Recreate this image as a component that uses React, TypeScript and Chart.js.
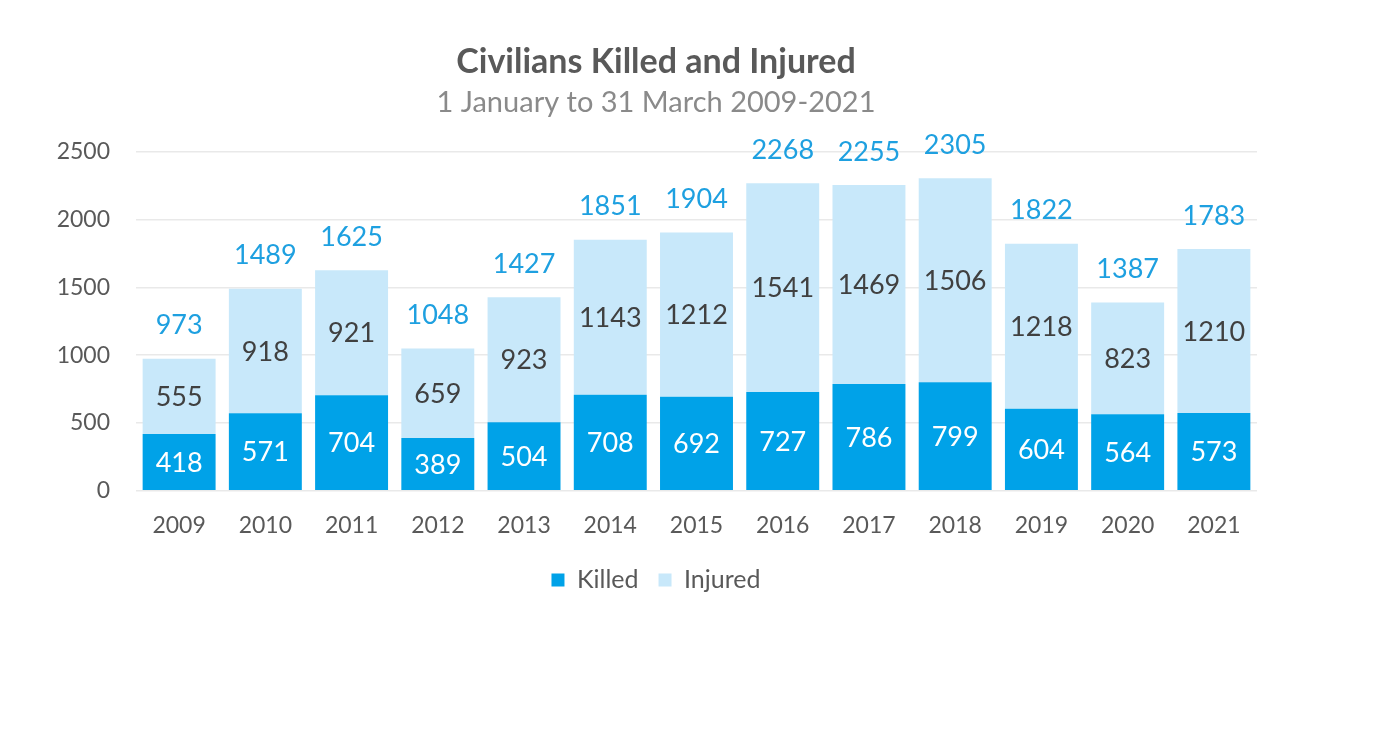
import { useEffect, useRef } from "react";
import { Chart, registerables } from "chart.js";

Chart.register(...registerables);

const years = ["2009", "2010", "2011", "2012", "2013", "2014", "2015", "2016", "2017", "2018", "2019", "2020", "2021"];
const killed = [418, 571, 704, 389, 504, 708, 692, 727, 786, 799, 604, 564, 573];
const injured = [555, 918, 921, 659, 923, 1143, 1212, 1541, 1469, 1506, 1218, 823, 1210];
const totals = killed.map((k, i) => k + injured[i]);
const yMin = 0;
const yMax = 2500;
const yStep = 500;

const FONT = "Lato, 'Open Sans', sans-serif";
const KILLED_COLOR = "#00a2e8";
const INJURED_COLOR = "#c8e8fa";
const TOTAL_COLOR = "#1ea0e0";
const TEXT_GREY = "#595959";

const barLabels = {
  id: "barLabels",
  afterDatasetsDraw(chart: any) {
    const ctx = chart.ctx;
    ctx.save();
    ctx.textAlign = "center";
    ctx.textBaseline = "middle";
    ctx.font = `27px ${FONT}`;
    chart.data.datasets.forEach((ds: any, di: number) => {
      const meta = chart.getDatasetMeta(di);
      meta.data.forEach((el: any, i: number) => {
        const { x, y, base } = el.getProps(["x", "y", "base"], true);
        ctx.fillStyle = di === 0 ? "#ffffff" : "#404040";
        ctx.fillText(String(ds.data[i]), x, (y + base) / 2 + 1);
      });
    });
    const topMeta = chart.getDatasetMeta(1);
    ctx.fillStyle = TOTAL_COLOR;
    topMeta.data.forEach((el: any, i: number) => {
      const { x, y } = el.getProps(["x", "y"], true);
      ctx.fillText(String(totals[i]), x, y - 33);
    });
    ctx.restore();
  },
};

export default function App() {
  const ref = useRef<HTMLCanvasElement | null>(null);
  useEffect(() => {
    document.body.style.margin = "0";
    if (!ref.current) return;
    const chart = new Chart(ref.current, {
      type: "bar",
      data: {
        labels: years,
        datasets: [
          { label: "Killed", data: killed, backgroundColor: KILLED_COLOR, borderWidth: 0 },
          { label: "Injured", data: injured, backgroundColor: INJURED_COLOR, borderWidth: 0 },
        ],
      },
      options: {
        responsive: false,
        animation: false,
        devicePixelRatio: 1,
        layout: { padding: { left: 55, right: 125, top: 0, bottom: 147.5 } },
        datasets: { bar: { categoryPercentage: 1, barPercentage: 0.846 } },
        scales: {
          x: {
            stacked: true,
            grid: { display: false, drawTicks: false },
            border: { display: false },
            ticks: { color: TEXT_GREY, font: { family: FONT, size: 23 }, padding: 21 },
            afterFit: (s: any) => { s.height = 56.8; },
          },
          y: {
            stacked: true,
            min: yMin,
            max: yMax,
            ticks: {
              stepSize: yStep,
              color: TEXT_GREY,
              font: { family: FONT, size: 23 },
              padding: 26,
              callback: (v: any) => String(v),
            },
            grid: { color: "#e9e9e9", lineWidth: 1.5, drawTicks: false },
            border: { display: false },
            afterFit: (s: any) => { s.width = 81; },
          },
        },
        plugins: {
          title: {
            display: true,
            text: "Civilians Killed and Injured",
            color: TEXT_GREY,
            font: { family: FONT, size: 34, weight: "bold" },
            padding: { top: 41.6, bottom: 0 },
          },
          subtitle: {
            display: true,
            text: "1 January to 31 March 2009-2021",
            color: "#8a8a8a",
            font: { family: FONT, size: 29, weight: "normal" },
            padding: { top: 3.2, bottom: 31.3 },
          },
          legend: {
            position: "bottom",
            labels: {
              boxWidth: 13,
              boxHeight: 13,
              color: TEXT_GREY,
              font: { family: FONT, size: 25 },
              padding: 20,
            },
          },
          tooltip: { enabled: false },
        },
      },
      plugins: [barLabels],
    } as any);
    return () => chart.destroy();
  }, []);
  return (
    <div style={{ width: 1382, height: 750, background: "#ffffff" }}>
      <canvas ref={ref} width={1382} height={750} style={{ width: 1382, height: 750, display: "block" }} />
    </div>
  );
}
